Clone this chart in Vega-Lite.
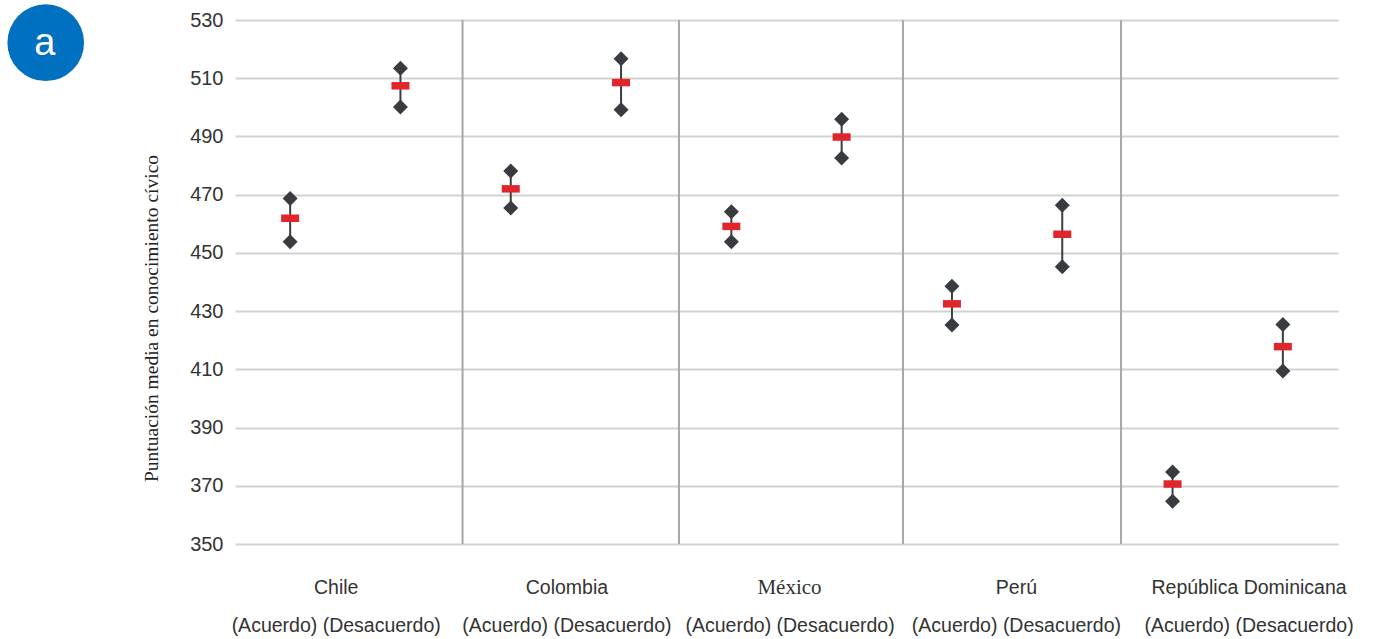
{
  "$schema": "https://vega.github.io/schema/vega-lite/v6.json",
  "width": 1103,
  "height": 524,
  "autosize": {"type": "none"},
  "padding": {"left": 235, "top": 20, "right": 39, "bottom": 95},
  "background": "white",
  "config": {"view": {"stroke": null}},
  "datasets": {
    "scores": [
      {"country": "Chile", "group": "Acuerdo", "idx": 0, "low": 453.8, "mean": 461.9, "high": 468.7},
      {"country": "Chile", "group": "Desacuerdo", "idx": 1, "low": 500.1, "mean": 507.4, "high": 513.4},
      {"country": "Colombia", "group": "Acuerdo", "idx": 2, "low": 465.4, "mean": 472.0, "high": 478.1},
      {"country": "Colombia", "group": "Desacuerdo", "idx": 3, "low": 499.2, "mean": 508.5, "high": 516.7},
      {"country": "México", "group": "Acuerdo", "idx": 4, "low": 453.8, "mean": 459.1, "high": 464.1},
      {"country": "México", "group": "Desacuerdo", "idx": 5, "low": 482.6, "mean": 489.8, "high": 495.9},
      {"country": "Perú", "group": "Acuerdo", "idx": 6, "low": 425.2, "mean": 432.5, "high": 438.5},
      {"country": "Perú", "group": "Desacuerdo", "idx": 7, "low": 445.2, "mean": 456.4, "high": 466.4},
      {"country": "República Dominicana", "group": "Acuerdo", "idx": 8, "low": 364.7, "mean": 370.6, "high": 374.7},
      {"country": "República Dominicana", "group": "Desacuerdo", "idx": 9, "low": 409.4, "mean": 417.8, "high": 425.4}
    ],
    "separators": [
      {"idx": 1.563},
      {"idx": 3.525},
      {"idx": 5.556},
      {"idx": 7.533}
    ],
    "badge": [
      {"label": "a"}
    ]
  },
  "layer": [
    {
      "data": {"name": "separators"},
      "mark": {"type": "rule", "color": "#a8a8a8", "strokeWidth": 2},
      "encoding": {
        "x": {
          "field": "idx", "type": "quantitative", "title": null,
          "scale": {"domain": [-0.5, 9.5], "nice": false, "zero": false},
          "axis": {
            "title": null,
            "values": [0.413, 2.505, 4.528, 6.58, 8.689],
            "labelExpr": "datum.value < 1.5 ? ['Chile', '(Acuerdo) (Desacuerdo)'] : datum.value < 3.5 ? ['Colombia', '(Acuerdo) (Desacuerdo)'] : datum.value < 5.5 ? [' ', '(Acuerdo) (Desacuerdo)'] : datum.value < 7.5 ? ['Perú', '(Acuerdo) (Desacuerdo)'] : ['República Dominicana', '(Acuerdo) (Desacuerdo)']",
            "labelFont": "Liberation Sans",
            "labelFontSize": 19.5,
            "labelLineHeight": 38,
            "labelColor": "#333333",
            "labelBaseline": "middle",
            "labelPadding": 43,
            "labelLimit": 0,
            "labelOverlap": false,
            "labelFlush": false,
            "labelBound": false,
            "ticks": false,
            "domain": false,
            "grid": false
          }
        }
      }
    },
    {
      "data": {"name": "scores"},
      "mark": {"type": "rule", "color": "#3b3f42", "strokeWidth": 2},
      "encoding": {
        "x": {"field": "idx", "type": "quantitative", "title": null},
        "y": {
          "field": "low", "type": "quantitative",
          "scale": {"domain": [350, 530], "nice": false, "zero": false},
          "axis": {
            "title": "Puntuación media en conocimiento cívico",
            "titleFont": "Liberation Serif",
            "titleFontSize": 19.5,
            "titleFontWeight": "normal",
            "titleColor": "#222222",
            "titleX": -84,
            "titleY": 298,
            "titleAlign": "center",
            "titleBaseline": "middle",
            "titleAngle": -90,
            "values": [350, 370, 390, 410, 430, 450, 470, 490, 510, 530],
            "labelFont": "Liberation Sans",
            "labelFontSize": 20,
            "labelColor": "#333333",
            "labelPadding": 12,
            "ticks": false,
            "domain": false,
            "grid": true,
            "gridColor": "#d2d2d2",
            "gridWidth": 2
          }
        },
        "y2": {"field": "high"}
      }
    },
    {
      "data": {"name": "scores"},
      "mark": {"type": "point", "shape": "diamond", "filled": true, "opacity": 1, "size": 225, "color": "#383c40"},
      "encoding": {
        "x": {"field": "idx", "type": "quantitative", "title": null},
        "y": {"field": "low", "type": "quantitative", "title": "Puntuación media en conocimiento cívico"}
      }
    },
    {
      "data": {"name": "scores"},
      "mark": {"type": "point", "shape": "diamond", "filled": true, "opacity": 1, "size": 225, "color": "#383c40"},
      "encoding": {
        "x": {"field": "idx", "type": "quantitative", "title": null},
        "y": {"field": "high", "type": "quantitative", "title": "Puntuación media en conocimiento cívico"}
      }
    },
    {
      "data": {"name": "scores"},
      "mark": {"type": "tick", "orient": "horizontal", "size": 18, "thickness": 7.5, "color": "#e1262b", "opacity": 1},
      "encoding": {
        "x": {"field": "idx", "type": "quantitative", "title": null},
        "y": {"field": "mean", "type": "quantitative", "title": "Puntuación media en conocimiento cívico"}
      }
    },
    {
      "data": {"name": "scores"},
      "transform": [
        {"filter": "datum.country == 'México'"},
        {"aggregate": [{"op": "mean", "field": "idx", "as": "idx"}], "groupby": ["country"]}
      ],
      "mark": {"type": "text", "font": "Liberation Serif", "fontSize": 21, "color": "#333333", "baseline": "alphabetic", "align": "center", "dx": 3},
      "encoding": {
        "x": {"field": "idx", "type": "quantitative", "title": null},
        "y": {"datum": 332.8, "type": "quantitative", "title": "Puntuación media en conocimiento cívico"},
        "text": {"field": "country"}
      }
    },
    {
      "data": {"name": "badge"},
      "mark": {"type": "point", "shape": "circle", "filled": true, "opacity": 1, "size": 5880, "fill": "#0070c0", "strokeWidth": 0},
      "encoding": {
        "x": {"datum": -2.216, "type": "quantitative"},
        "y": {"datum": 522.2, "type": "quantitative"}
      }
    },
    {
      "data": {"name": "badge"},
      "mark": {"type": "text", "font": "Liberation Sans", "fontSize": 38, "fill": "#ffffff", "baseline": "middle", "align": "center", "dx": -1, "dy": 1},
      "encoding": {
        "x": {"datum": -2.216, "type": "quantitative"},
        "y": {"datum": 522.2, "type": "quantitative"},
        "text": {"field": "label"}
      }
    }
  ]
}
